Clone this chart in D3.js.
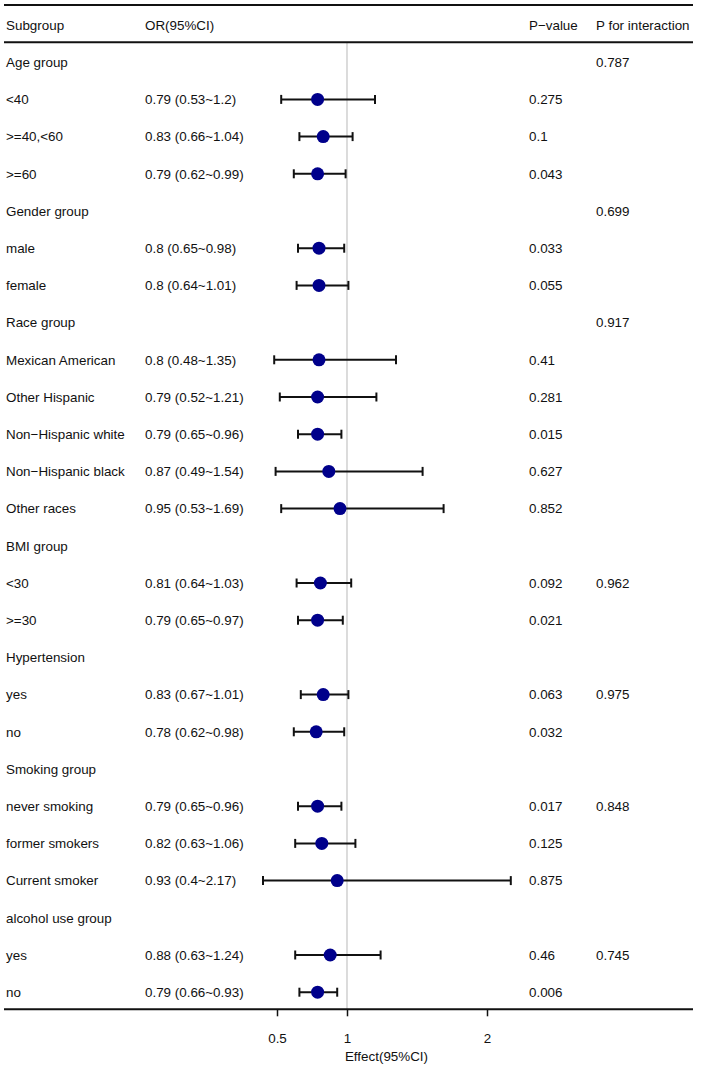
<!DOCTYPE html>
<html>
<head>
<meta charset="utf-8">
<script src="https://cdn.jsdelivr.net/npm/d3@7"></script>
<style>
  html, body { margin: 0; padding: 0; background: #fff; }
  svg { display: block; }
  text { font-family: "Liberation Sans", Arial, sans-serif; fill: #111; }
</style>
</head>
<body>
<svg id="chart" width="708" height="1071"></svg>
<script>
const subgroups = ["Age group", "<40", ">=40,<60", ">=60",
  "Gender group", "male", "female",
  "Race group", "Mexican American", "Other Hispanic", "Non\u2212Hispanic white", "Non\u2212Hispanic black", "Other races",
  "BMI group", "<30", ">=30",
  "Hypertension", "yes", "no",
  "Smoking group", "never smoking", "former smokers", "Current smoker",
  "alcohol use group", "yes", "no"];
const estimates = [null, 0.79, 0.83, 0.79,
  null, 0.8, 0.8,
  null, 0.8, 0.79, 0.79, 0.87, 0.95,
  null, 0.81, 0.79,
  null, 0.83, 0.78,
  null, 0.79, 0.82, 0.93,
  null, 0.88, 0.79];
const lowers = [null, 0.53, 0.66, 0.62,
  null, 0.65, 0.64,
  null, 0.48, 0.52, 0.65, 0.49, 0.53,
  null, 0.64, 0.65,
  null, 0.67, 0.62,
  null, 0.65, 0.63, 0.4,
  null, 0.63, 0.66];
const uppers = [null, 1.2, 1.04, 0.99,
  null, 0.98, 1.01,
  null, 1.35, 1.21, 0.96, 1.54, 1.69,
  null, 1.03, 0.97,
  null, 1.01, 0.98,
  null, 0.96, 1.06, 2.17,
  null, 1.24, 0.93];
const pValues = ["", "0.275", "0.1", "0.043",
  "", "0.033", "0.055",
  "", "0.41", "0.281", "0.015", "0.627", "0.852",
  "", "0.092", "0.021",
  "", "0.063", "0.032",
  "", "0.017", "0.125", "0.875",
  "", "0.46", "0.006"];
const pInteraction = ["0.787", "", "", "",
  "0.699", "", "",
  "0.917", "", "", "", "", "",
  "", "0.962", "",
  "", "0.975", "",
  "", "0.848", "", "",
  "", "0.745", ""];
const headers = ["Subgroup", "OR(95%CI)", "P\u2212value", "P for interaction"];
const tickValues = [0.5, 1, 2];
const axisTitle = "Effect(95%CI)";

const rows = subgroups.map((s, i) => ({
  label: s,
  est: estimates[i], lo: lowers[i], hi: uppers[i],
  p: pValues[i], pint: pInteraction[i],
  or: estimates[i] == null ? "" : `${estimates[i]} (${lowers[i]}~${uppers[i]})`
}));

const svg = d3.select("#chart");
const FS = 13.4;
const colX = [6, 145, 529, 596];
const headerY = 25;
const rowStep = 37.2;
const y = d3.scaleLinear().domain([0, rows.length]).range([headerY, headerY + rows.length * rowStep]);
const x = d3.scaleLinear().domain([0.5, 2]).range([277, 487]);

const lineTop = 5, lineHead = 42.3, lineAxis = 1009.3, lineL = 4, lineR = 693;

// reference line at 1
svg.append("line")
  .attr("x1", x(1)).attr("x2", x(1))
  .attr("y1", lineHead).attr("y2", lineAxis)
  .attr("stroke", "#c4c4c4").attr("stroke-width", 1.2);

// horizontal rules
[lineTop, lineHead].forEach(yy => {
  svg.append("line").attr("x1", lineL).attr("x2", lineR)
    .attr("y1", yy).attr("y2", yy)
    .attr("stroke", "#111").attr("stroke-width", 2);
});

// headers
svg.selectAll("text.hdr").data(headers).enter().append("text")
  .attr("class", "hdr")
  .attr("x", (d, i) => colX[i]).attr("y", headerY)
  .attr("dy", "0.36em").attr("font-size", FS).text(d => d);

// row text
const g = svg.selectAll("g.row").data(rows).enter().append("g").attr("class", "row");
g.append("text").attr("x", colX[0]).attr("y", (d, i) => y(i + 1)).attr("dy", "0.36em").attr("font-size", FS).text(d => d.label);
g.append("text").attr("x", colX[1]).attr("y", (d, i) => y(i + 1)).attr("dy", "0.36em").attr("font-size", FS).text(d => d.or);
g.append("text").attr("x", colX[2]).attr("y", (d, i) => y(i + 1)).attr("dy", "0.36em").attr("font-size", FS).text(d => d.p);
g.append("text").attr("x", colX[3]).attr("y", (d, i) => y(i + 1)).attr("dy", "0.36em").attr("font-size", FS).text(d => d.pint);

// CI bars
const cap = 4.5;
const ci = g.filter(d => d.est != null);
ci.append("line")
  .attr("x1", d => x(d.lo)).attr("x2", d => x(d.hi))
  .attr("y1", (d) => y(rows.indexOf(d) + 1)).attr("y2", d => y(rows.indexOf(d) + 1))
  .attr("stroke", "#111").attr("stroke-width", 2);
ci.append("line")
  .attr("x1", d => x(d.lo)).attr("x2", d => x(d.lo))
  .attr("y1", d => y(rows.indexOf(d) + 1) - cap).attr("y2", d => y(rows.indexOf(d) + 1) + cap)
  .attr("stroke", "#111").attr("stroke-width", 2);
ci.append("line")
  .attr("x1", d => x(d.hi)).attr("x2", d => x(d.hi))
  .attr("y1", d => y(rows.indexOf(d) + 1) - cap).attr("y2", d => y(rows.indexOf(d) + 1) + cap)
  .attr("stroke", "#111").attr("stroke-width", 2);
ci.append("circle")
  .attr("cx", d => x(d.est)).attr("cy", d => y(rows.indexOf(d) + 1))
  .attr("r", 6.5).attr("fill", "#00008B");

// bottom axis
svg.append("line").attr("x1", lineL).attr("x2", lineR)
  .attr("y1", lineAxis).attr("y2", lineAxis)
  .attr("stroke", "#111").attr("stroke-width", 2);
const axis = d3.axisBottom(x).tickValues(tickValues).tickSize(7).tickPadding(17).tickFormat(d3.format("~g"));
const ag = svg.append("g").attr("transform", `translate(0,${lineAxis})`).call(axis);
ag.select(".domain").remove();
ag.selectAll(".tick line").attr("stroke", "#111").attr("stroke-width", 1.5);
ag.selectAll(".tick text").attr("font-size", FS).attr("font-family", "Liberation Sans, Arial, sans-serif").attr("fill", "#111");

svg.append("text").attr("x", 386.5).attr("y", 1061).attr("text-anchor", "middle")
  .attr("font-size", FS).text(axisTitle);
</script>
</body>
</html>
